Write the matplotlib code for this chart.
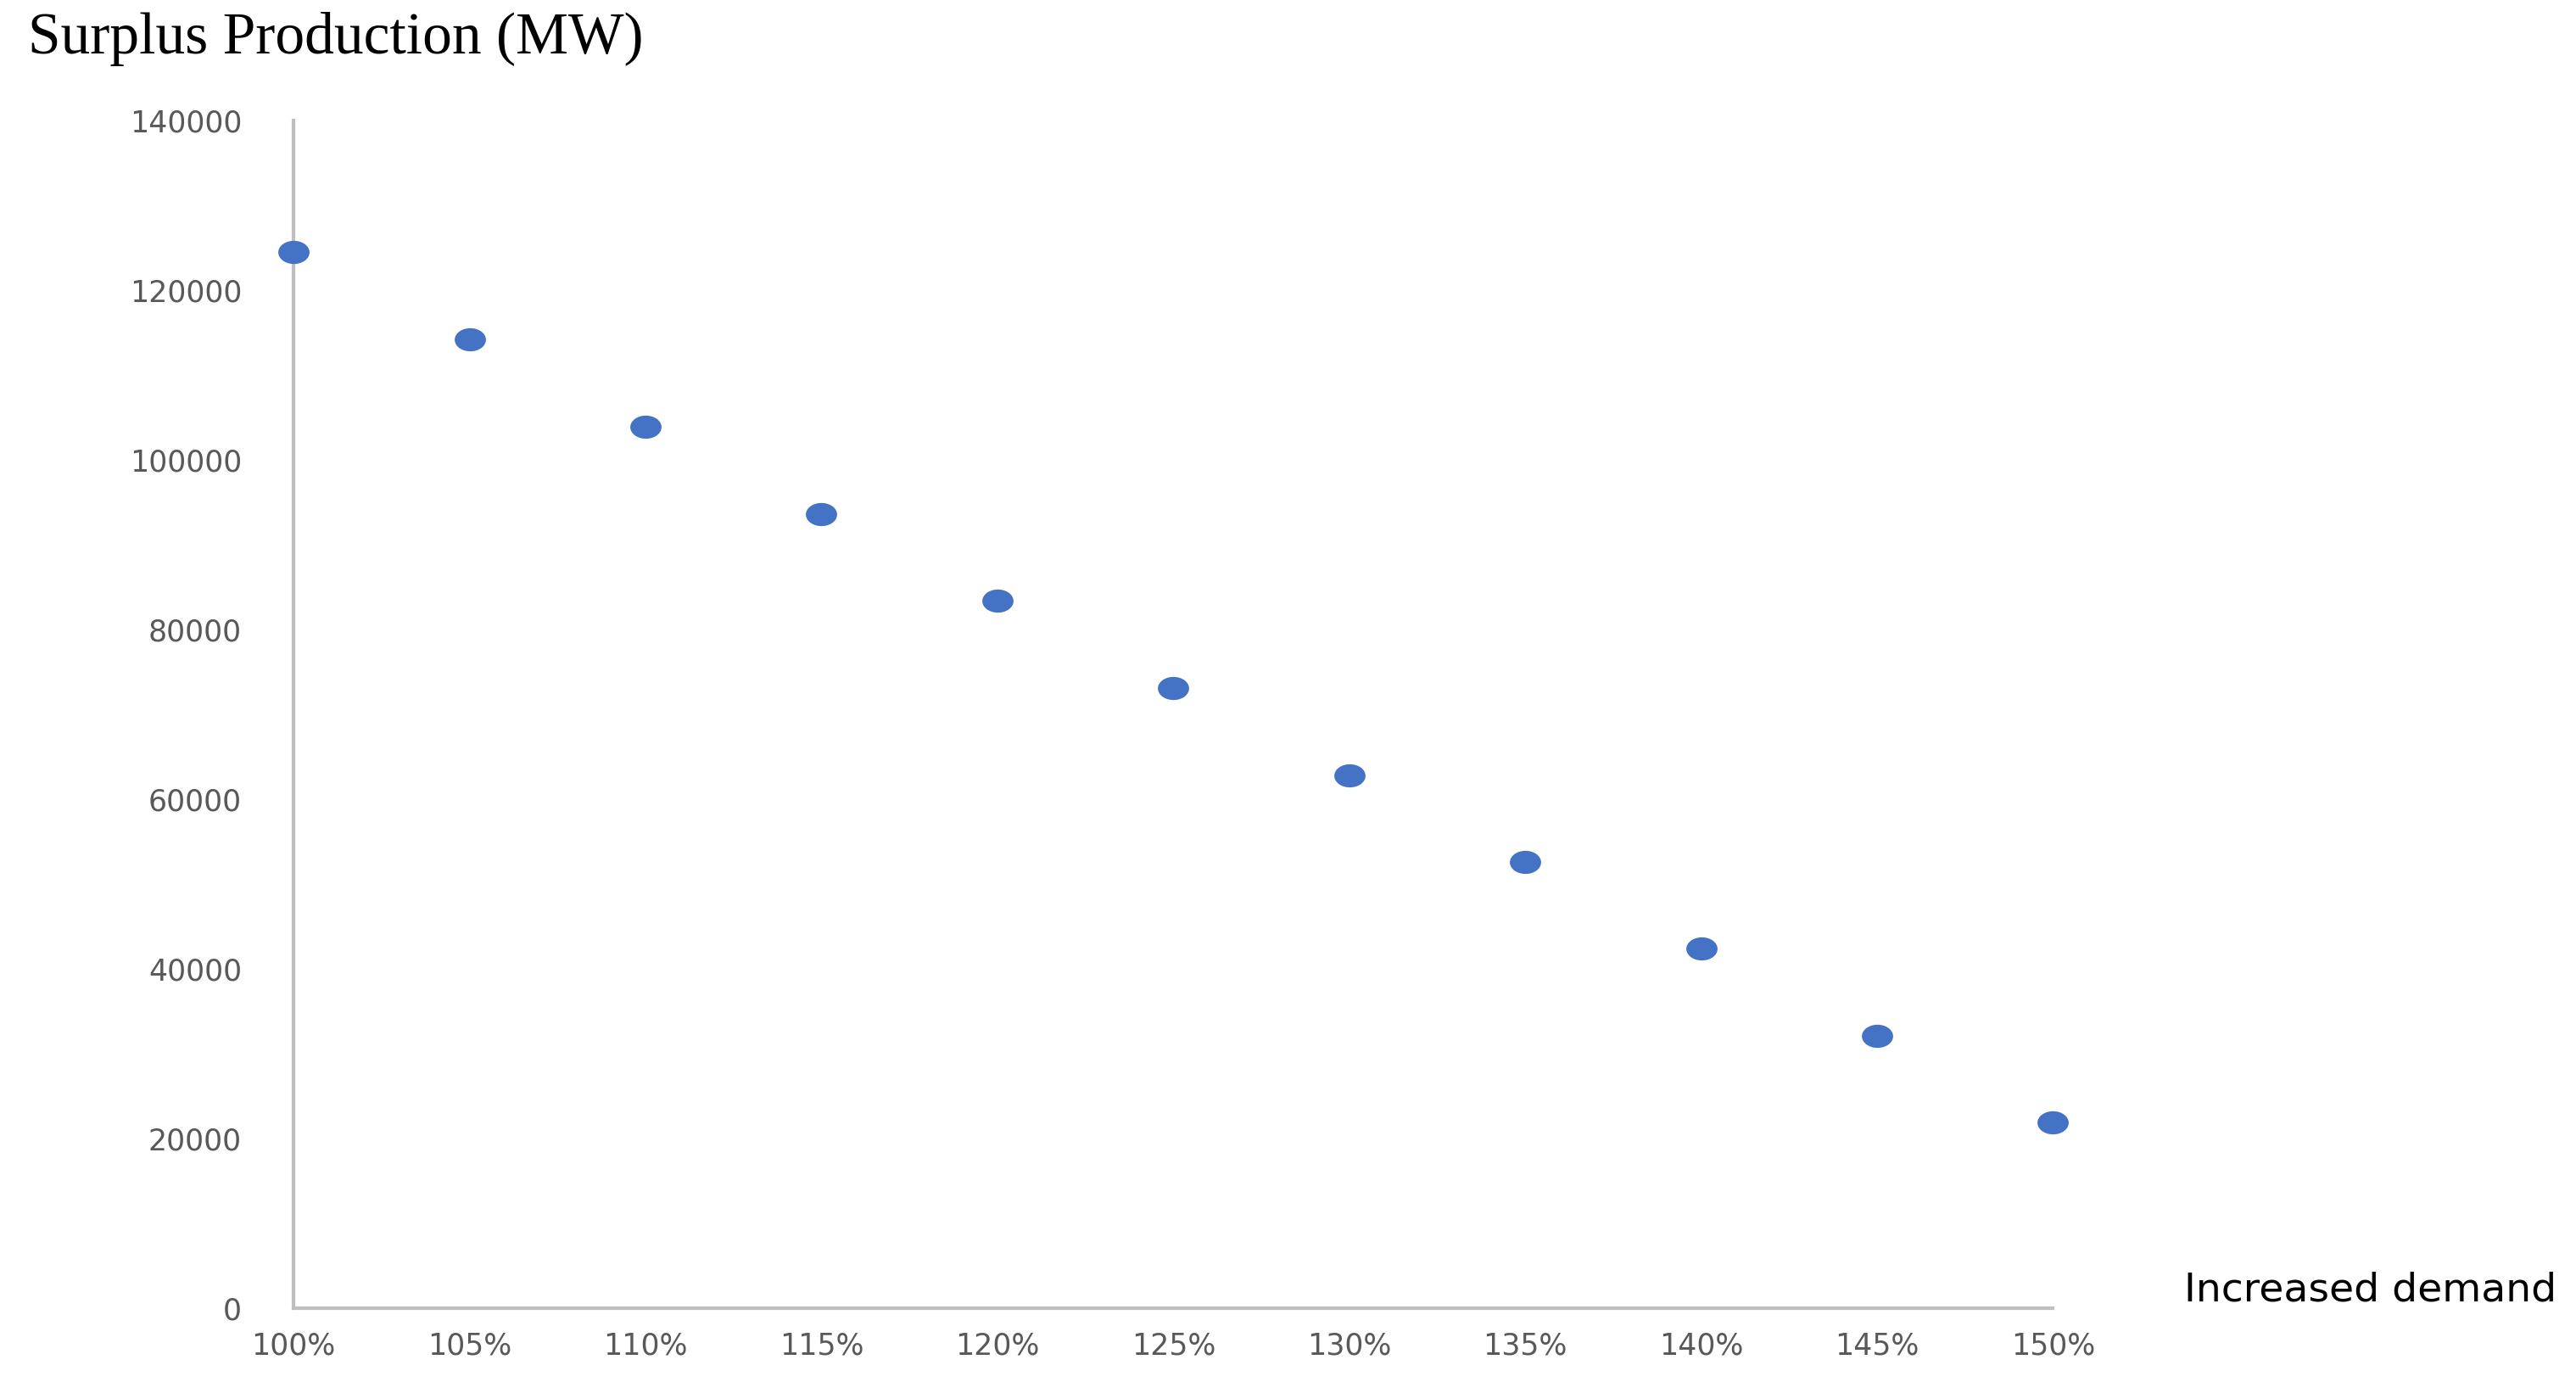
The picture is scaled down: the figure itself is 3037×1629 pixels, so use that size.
import matplotlib.pyplot as plt
from matplotlib.path import Path
from matplotlib.transforms import Affine2D

demand_labels = ['100%', '105%', '110%', '115%', '120%', '125%', '130%', '135%', '140%', '145%', '150%']
demand = [100, 105, 110, 115, 120, 125, 130, 135, 140, 145, 150]
surplus = [124500, 114200, 103900, 93600, 83400, 73100, 62800, 52600, 42400, 32100, 21900]

# slightly flattened ellipse marker like the original
ellipse = Path.unit_circle().transformed(Affine2D().scale(1.0, 0.72))

fig = plt.figure(figsize=(15.185, 8.145), dpi=200)
ax = fig.add_axes([0.114, 0.0535, 0.683, 0.8595])

ax.scatter(demand, surplus, s=150, color='#4472C4', marker=ellipse, zorder=3, clip_on=False)

ax.set_xlim(100, 150)
ax.set_ylim(0, 140000)
ax.set_xticks(demand)
ax.set_xticklabels(demand_labels)
ax.set_yticks(range(0, 140001, 20000))

for side in ['top', 'right']:
    ax.spines[side].set_visible(False)
for side in ['left', 'bottom']:
    ax.spines[side].set_color('#BFBFBF')
    ax.spines[side].set_linewidth(1.5)
ax.tick_params(length=0, colors='#595959', labelsize=12.5, pad=10)
ax.tick_params(axis='y', pad=22)

fig.text(0.011, 0.972, 'Surplus Production (MW)', family='Liberation Serif', fontsize=25, va='center')
fig.text(0.848, 0.066, 'Increased demand', fontsize=17, va='center')

plt.savefig('out.png')
